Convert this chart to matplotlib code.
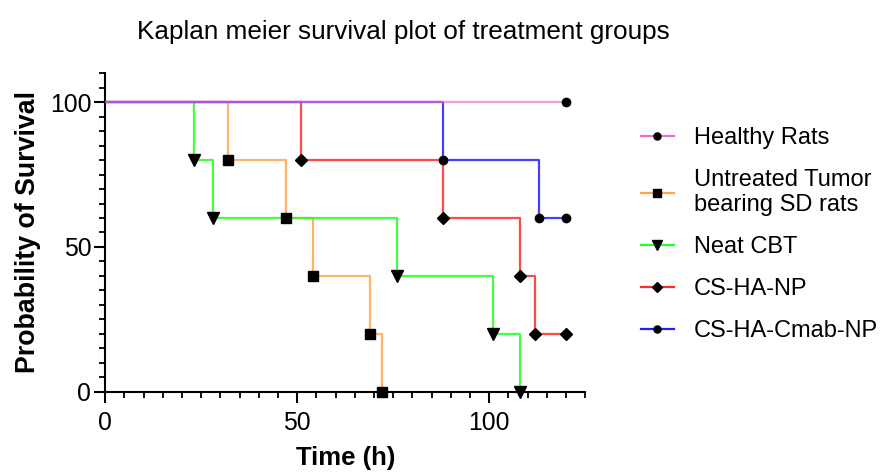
import matplotlib
matplotlib.use('Agg')
from matplotlib import pyplot as plt
from matplotlib.ticker import MultipleLocator

plt.rcParams['font.family'] = ['Liberation Sans', 'DejaVu Sans']

# survival curves (time in h, % surviving)
healthy_t = [0, 120]
healthy_s = [100, 100]
untreated_t = [0, 32, 47, 54, 69, 72]
untreated_s = [100, 80, 60, 40, 20, 0]
neat_t = [0, 23, 28, 76, 101, 108]
neat_s = [100, 80, 60, 40, 20, 0]
csha_t = [0, 51, 88, 108, 112, 120]
csha_s = [100, 80, 60, 40, 20, 20]
cmab_t = [0, 88, 113, 120]
cmab_s = [100, 80, 60, 60]

groups = [
    ('Healthy Rats', healthy_t, healthy_s, '#f06ad2', 'o', 6, 5),
    ('Untreated Tumor\nbearing SD rats', untreated_t, untreated_s, '#ffa64d', 's', 6.5, 2),
    ('Neat CBT', neat_t, neat_s, '#22ff22', 'v', 8, 2),
    ('CS-HA-NP', csha_t, csha_s, '#ff2a2a', 'D', 6, 3),
    ('CS-HA-Cmab-NP', cmab_t, cmab_s, '#2020ff', 'o', 6, 4),
]

fig = plt.figure(figsize=(8.84, 4.73), dpi=100)
ax = fig.add_axes([0.119, 0.172, 0.543, 0.673])

handles = []
for label, t, s, color, mk, ms, z in groups:
    a = 0.65 if label == 'Healthy Rats' else 0.85
    ax.step(t, s, where='post', color=color, lw=1.6, alpha=a, zorder=z)
    ax.plot(t[1:], s[1:], ls='none', marker=mk, ms=ms, color='black',
            clip_on=False, zorder=6)
    h, = ax.plot([], [], color=color, lw=1.6, marker=mk, ms=ms * 0.85,
                 markerfacecolor='black', markeredgecolor='black')
    handles.append((h, label))

ax.set_xlim(0, 125)
ax.set_ylim(0, 110)
ax.xaxis.set_major_locator(MultipleLocator(50))
ax.xaxis.set_minor_locator(MultipleLocator(5))
ax.yaxis.set_major_locator(MultipleLocator(50))
ax.yaxis.set_minor_locator(MultipleLocator(5))
ax.spines['top'].set_visible(False)
ax.spines['right'].set_visible(False)
for sp in ('left', 'bottom'):
    ax.spines[sp].set_linewidth(1.5)
ax.tick_params(which='major', direction='out', length=8, width=1.5,
               labelsize=17.8)
ax.tick_params(which='minor', direction='out', length=4.5, width=1.3)
ax.tick_params(axis='x', which='major', pad=6)
ax.tick_params(axis='y', which='major', pad=2)

ax.set_xlabel('Time (h)', fontsize=18.5, fontweight='bold', labelpad=8)
ax.set_ylabel('Probability of Survival', fontsize=19.3, fontweight='bold', labelpad=6)
fig.text(0.456, 0.933, 'Kaplan meier survival plot of treatment groups',
         fontsize=18.8, ha='center', va='center')

fig.legend([h for h, _ in handles], [l for _, l in handles],
           loc='upper left', bbox_to_anchor=(0.725, 0.732), frameon=False,
           fontsize=17, handlelength=1.4, handletextpad=0.85,
           labelspacing=0.85, numpoints=1, borderaxespad=0, borderpad=0)

fig.savefig('out.png', dpi=100)
